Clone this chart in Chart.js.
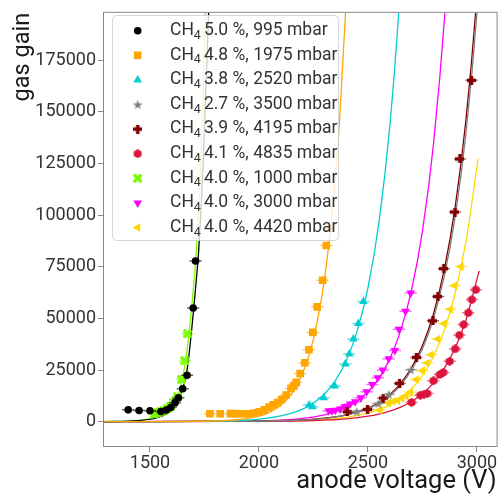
<!DOCTYPE html>
<html>
<head>
<meta charset="utf-8">
<title>gas gain vs anode voltage</title>
<script src="https://cdn.jsdelivr.net/npm/chart.js@4.4.1/dist/chart.umd.min.js"></script>
<style>
  html, body { margin: 0; padding: 0; background: #fff; }
</style>
</head>
<body>
<canvas id="gain" width="502" height="498"></canvas>
<script>
// axis ranges and ticks
var x_min = 1289, x_max = 3090;
var y_min = -11800, y_max = 198000;
var x_ticks = [1500, 2000, 2500, 3000];
var y_ticks = [0, 25000, 50000, 75000, 100000, 125000, 150000, 175000];

// horizontal voltage uncertainty (V)
var volt_err = 28;

// measured gain: anode voltage (V) / gas gain
var black_v = [1400, 1450, 1500, 1550, 1575, 1595, 1615, 1630, 1650, 1670, 1698, 1709];
var black_g = [5700, 5400, 5300, 4900, 5600, 6800, 9200, 11500, 15900, 22500, 55000, 77800];

var orange_v = [1775, 1822, 1869, 1887, 1910, 1933, 1955, 1978, 2001, 2024, 2046, 2065, 2086, 2104, 2125, 2147, 2160, 2171, 2189, 2210, 2229, 2247, 2267, 2292, 2309, 2320];
var orange_g = [3800, 3800, 3900, 3900, 3800, 3800, 3800, 4200, 4800, 5700, 7000, 8100, 9200, 10700, 12900, 16100, 17200, 19100, 23300, 28500, 34800, 43200, 55600, 68500, 85300, 93600];

var cyan_v = [2230, 2245, 2297, 2347, 2396, 2414, 2433, 2456, 2479];
var cyan_g = [8100, 7200, 11600, 17200, 27900, 32800, 40000, 47500, 58200];

var gray_v = [2449, 2547, 2596, 2697];
var gray_g = [4900, 8750, 13200, 25100];

var maroon_v = [2405, 2498, 2570, 2645, 2722, 2798, 2821, 2848, 2899, 2922, 2975];
var maroon_g = [4800, 5900, 11400, 18500, 31100, 48800, 60600, 74100, 101500, 127200, 165300];

var crimson_v = [2700, 2740, 2758, 2772, 2800, 2830, 2845, 2875, 2900, 2919, 2939, 2960, 2977, 2995];
var crimson_g = [9300, 12800, 13300, 13600, 19800, 22800, 23800, 29200, 35200, 41900, 47000, 52700, 59100, 63900];

var green_v = [1520, 1535, 1550, 1565, 1580, 1595, 1610, 1625, 1645, 1660, 1672];
var green_g = [3700, 4200, 4800, 5500, 6300, 7500, 9500, 12000, 20500, 29500, 42500];

var magenta_v = [2320, 2335, 2350, 2372, 2395, 2418, 2441, 2467, 2494, 2520, 2545, 2568, 2595, 2623, 2642, 2672, 2696];
var magenta_g = [5300, 5300, 5500, 6100, 7300, 8500, 9600, 11600, 14500, 18000, 21300, 25000, 30400, 34500, 44800, 53400, 62300];

var gold_v = [2555, 2595, 2615, 2635, 2655, 2675, 2695, 2722, 2750, 2772, 2790, 2820, 2850, 2878, 2897, 2927];
var gold_g = [5600, 9000, 9800, 10200, 11200, 12500, 14300, 20400, 24700, 28400, 32400, 40000, 47500, 54400, 65800, 75100];

// fitted gain curves
var black_fit_v = [1290, 1450, 1550, 1600, 1640, 1670, 1700, 1712, 1724, 1745, 1769, 1790];
var black_fit_g = [0, 500, 2500, 6000, 13000, 25000, 54000, 68000, 84000, 128000, 198000, 270000];

var orange_fit_v = [1290, 1750, 1900, 2000, 2050, 2100, 2150, 2200, 2250, 2300, 2340, 2370, 2397, 2430];
var orange_fit_g = [0, 180, 920, 2700, 4630, 7960, 13650, 23360, 40100, 68800, 106000, 146600, 198000, 277000];

var cyan_fit_v = [1290, 1850, 2000, 2100, 2200, 2250, 2300, 2350, 2400, 2450, 2500, 2550, 2600, 2646, 2680];
var cyan_fit_g = [0, 380, 1250, 2760, 6080, 9000, 13370, 19850, 29500, 43700, 64900, 96300, 143000, 206000, 269000];

var gray_fit_v = [1290, 2150, 2300, 2400, 2450, 2500, 2550, 2600, 2650, 2700, 2750, 2800, 2850, 2900, 2950, 3000, 3050];
var gray_fit_g = [0, 560, 1580, 3150, 4450, 6280, 8870, 12530, 17700, 25000, 35300, 49800, 70300, 99300, 140200, 198000, 279600];

var maroon_fit_v = [1290, 2150, 2300, 2400, 2500, 2550, 2600, 2650, 2700, 2750, 2800, 2850, 2900, 2950, 3000, 3050];
var maroon_fit_g = [0, 590, 1650, 3300, 6580, 9300, 13100, 18500, 26200, 36900, 52000, 73700, 104000, 146800, 207000, 292800];

var crimson_fit_v = [1290, 2150, 2300, 2400, 2500, 2550, 2600, 2650, 2700, 2750, 2800, 2850, 2900, 2950, 3010];
var crimson_fit_g = [0, 270, 723, 1385, 2650, 3670, 5080, 7030, 9730, 13470, 18640, 25800, 35700, 49400, 73000];

var green_fit_v = [1290, 1450, 1530, 1580, 1620, 1645, 1660, 1675, 1690, 1712, 1732, 1753, 1775];
var green_fit_g = [0, 600, 2500, 5500, 11000, 19000, 27500, 39000, 54000, 82000, 122000, 192000, 285000];

var magenta_fit_v = [1290, 1950, 2100, 2200, 2300, 2350, 2400, 2450, 2500, 2550, 2600, 2650, 2700, 2750, 2800, 2854, 2900];
var magenta_fit_g = [0, 250, 750, 1580, 3310, 4790, 6940, 10050, 14500, 21000, 30500, 44100, 63800, 92400, 133900, 199600, 280600];

var gold_fit_v = [1290, 2150, 2300, 2400, 2500, 2550, 2600, 2650, 2700, 2750, 2800, 2850, 2900, 2950, 3005];
var gold_fit_g = [0, 380, 1050, 2080, 4100, 5760, 8100, 11380, 15990, 22460, 31550, 44300, 62300, 87500, 127200];

// legend labels: CH4 fraction (%) and pressure (mbar)
var ch4_pct = ['5.0', '4.8', '3.8', '2.7', '3.9', '4.1', '4.0', '4.0', '4.0'];
var pressure_mbar = ['995', '1975', '2520', '3500', '4195', '4835', '1000', '3000', '4420'];

var FONT = 'Roboto, "Liberation Sans", sans-serif';
Chart.defaults.font.family = FONT;

// filled marker shapes that Chart.js has no built-in for
function markerCanvas(shape, color, size) {
    var c = document.createElement('canvas');
    c.width = size; c.height = size;
    var g = c.getContext('2d');
    var m = size / 2;
    g.fillStyle = color;
    g.beginPath();
    if (shape === 'star') {
        for (var i = 0; i < 10; i++) {
            var r = i % 2 ? m * 0.42 : m;
            var a = -Math.PI / 2 + i * Math.PI / 5;
            g.lineTo(m + r * Math.cos(a), m + 0.5 + r * Math.sin(a));
        }
        g.closePath();
    } else if (shape === 'plus' || shape === 'x') {
        var t = size * 0.19;
        g.translate(m, m);
        if (shape === 'x') g.rotate(Math.PI / 4);
        var L = shape === 'x' ? m * 1.2 : m;
        g.rect(-t, -L, 2 * t, 2 * L);
        g.rect(-L, -t, 2 * L, 2 * t);
    } else if (shape === 'hex') {
        for (var j = 0; j < 6; j++) {
            var b = -Math.PI / 2 + j * Math.PI / 3;
            g.lineTo(m + m * Math.cos(b), m + m * Math.sin(b));
        }
        g.closePath();
    }
    g.fill();
    return c;
}

function rgba(hex, a) {
    var n = parseInt(hex.slice(1), 16);
    return 'rgba(' + (n >> 16) + ',' + ((n >> 8) & 255) + ',' + (n & 255) + ',' + a + ')';
}

var series = [
    { color: '#000000', style: 'circle', rot: 0, r: 3.8, v: black_v, g: black_g, fv: black_fit_v, fg: black_fit_g },
    { color: '#FFA500', style: 'rect', rot: 0, r: 5.4, v: orange_v, g: orange_g, fv: orange_fit_v, fg: orange_fit_g },
    { color: '#00CED1', style: 'triangle', rot: 0, r: 5, v: cyan_v, g: cyan_g, fv: cyan_fit_v, fg: cyan_fit_g },
    { color: '#808080', style: markerCanvas('star', '#808080', 10), rot: 0, r: 5, v: gray_v, g: gray_g, fv: gray_fit_v, fg: gray_fit_g },
    { color: '#800000', style: markerCanvas('plus', '#800000', 9), rot: 0, r: 5, v: maroon_v, g: maroon_g, fv: maroon_fit_v, fg: maroon_fit_g },
    { color: '#DC143C', style: markerCanvas('hex', '#DC143C', 9), rot: 0, r: 5, v: crimson_v, g: crimson_g, fv: crimson_fit_v, fg: crimson_fit_g },
    { color: '#7CFC00', style: markerCanvas('x', '#7CFC00', 9), rot: 0, r: 5, v: green_v, g: green_g, fv: green_fit_v, fg: green_fit_g },
    { color: '#FF00FF', style: 'triangle', rot: 180, r: 5, v: magenta_v, g: magenta_g, fv: magenta_fit_v, fg: magenta_fit_g },
    { color: '#FFD700', style: 'triangle', rot: -90, r: 5, v: gold_v, g: gold_g, fv: gold_fit_v, fg: gold_fit_g }
];

function pairs(xs, ys) {
    return xs.map(function (x, i) { return { x: x, y: ys[i] }; });
}

var datasets = [];
series.forEach(function (s, i) {
    datasets.push({
        data: pairs(s.fv, s.fg),
        showLine: true,
        borderColor: s.color,
        borderWidth: 1.3,
        pointRadius: 0,
        cubicInterpolationMode: 'monotone',
        order: i === 1 ? 2 : 3
    });
    datasets.push({
        data: pairs(s.v, s.g),
        showLine: false,
        pointStyle: s.style,
        pointRotation: s.rot,
        pointRadius: s.r,
        pointBackgroundColor: s.color,
        pointBorderWidth: 0,
        xErr: volt_err,
        errColor: rgba(s.color, 0.6),
        order: 1
    });
});

// horizontal error bars, drawn just before each marker set
var errorBars = {
    id: 'errorBars',
    beforeDatasetDraw: function (chart, args) {
        var ds = chart.data.datasets[args.index];
        if (!ds.xErr) return;
        var xs = chart.scales.x, ys = chart.scales.y, ctx = chart.ctx, a = chart.chartArea;
        ctx.save();
        ctx.beginPath();
        ctx.rect(a.left, a.top, a.right - a.left, a.bottom - a.top);
        ctx.clip();
        ctx.strokeStyle = ds.errColor;
        ctx.lineWidth = 1.5;
        ctx.beginPath();
        ds.data.forEach(function (p) {
            var y = ys.getPixelForValue(p.y);
            ctx.moveTo(xs.getPixelForValue(p.x - ds.xErr), y);
            ctx.lineTo(xs.getPixelForValue(p.x + ds.xErr), y);
        });
        ctx.stroke();
        ctx.restore();
    }
};

// box around the plot area
var frame = {
    id: 'frame',
    afterDatasetsDraw: function (chart) {
        var a = chart.chartArea, ctx = chart.ctx;
        ctx.save();
        ctx.strokeStyle = '#888';
        ctx.lineWidth = 1;
        ctx.strokeRect(a.left - 0.5, a.top - 0.5, a.right - a.left + 1, a.bottom - a.top + 1);
        ctx.restore();
    }
};

function roundRect(ctx, x, y, w, h, r) {
    ctx.beginPath();
    ctx.moveTo(x + r, y);
    ctx.arcTo(x + w, y, x + w, y + h, r);
    ctx.arcTo(x + w, y + h, x, y + h, r);
    ctx.arcTo(x, y + h, x, y, r);
    ctx.arcTo(x, y, x + w, y, r);
    ctx.closePath();
}

// legend with subscripted CH4 labels
var legendBox = {
    id: 'legendBox',
    afterDraw: function (chart) {
        var ctx = chart.ctx;
        ctx.save();
        roundRect(ctx, 112.5, 15.5, 226, 225, 4);
        ctx.fillStyle = 'rgba(255,255,255,0.8)';
        ctx.fill();
        ctx.strokeStyle = 'rgba(204,204,204,0.8)';
        ctx.lineWidth = 1;
        ctx.stroke();

        series.forEach(function (s, i) {
            var y = 30.7 + i * 24.6;
            ctx.fillStyle = s.color;
            Chart.helpers.drawPoint(ctx, { pointStyle: s.style, rotation: s.rot, radius: s.r, borderWidth: 0 }, 137.7, y);

            ctx.fillStyle = '#333';
            ctx.textBaseline = 'middle';
            ctx.textAlign = 'left';
            ctx.font = '17.5px ' + FONT;
            var x = 170;
            ctx.fillText('CH', x, y);
            x += ctx.measureText('CH').width;
            ctx.font = '12.5px ' + FONT;
            ctx.fillText('4', x, y + 5);
            x += ctx.measureText('4').width + 3;
            ctx.font = '17.5px ' + FONT;
            ctx.fillText(ch4_pct[i] + ' %, ' + pressure_mbar[i] + ' mbar', x, y);
        });
        ctx.restore();
    }
};

new Chart(document.getElementById('gain'), {
    type: 'scatter',
    data: { datasets: datasets },
    options: {
        responsive: false,
        animation: false,
        layout: { padding: { top: 7, right: 3, left: 0, bottom: 0 } },
        plugins: { legend: { display: false }, tooltip: { enabled: false } },
        scales: {
            x: {
                type: 'linear',
                min: x_min,
                max: x_max,
                afterFit: function (s) { s.height = 52; },
                afterBuildTicks: function (s) { s.ticks = x_ticks.map(function (v) { return { value: v }; }); },
                border: { display: false },
                grid: { drawOnChartArea: false, drawTicks: true, tickLength: 6, tickColor: '#888', tickWidth: 1 },
                ticks: {
                    color: '#333', font: { size: 18 }, padding: 1, maxRotation: 0, autoSkip: false,
                    callback: function (v) { return String(v); }
                },
                title: {
                    display: true, text: 'anode voltage (V)', align: 'end',
                    color: '#1a1a1a', font: { size: 25.5 }, padding: { top: 0, bottom: 1 }
                }
            },
            y: {
                type: 'linear',
                min: y_min,
                max: y_max,
                afterFit: function (s) { s.width = 104; },
                afterBuildTicks: function (s) { s.ticks = y_ticks.map(function (v) { return { value: v }; }); },
                border: { display: false },
                grid: { drawOnChartArea: false, drawTicks: true, tickLength: 6, tickColor: '#888', tickWidth: 1 },
                ticks: {
                    color: '#333', font: { size: 18 }, padding: 2, autoSkip: false,
                    callback: function (v) { return String(v); }
                },
                title: {
                    display: true, text: 'gas gain', align: 'end',
                    color: '#1a1a1a', font: { size: 23.5 }, padding: { top: 9, bottom: 0 }
                }
            }
        }
    },
    plugins: [errorBars, frame, legendBox]
});
</script>
</body>
</html>
